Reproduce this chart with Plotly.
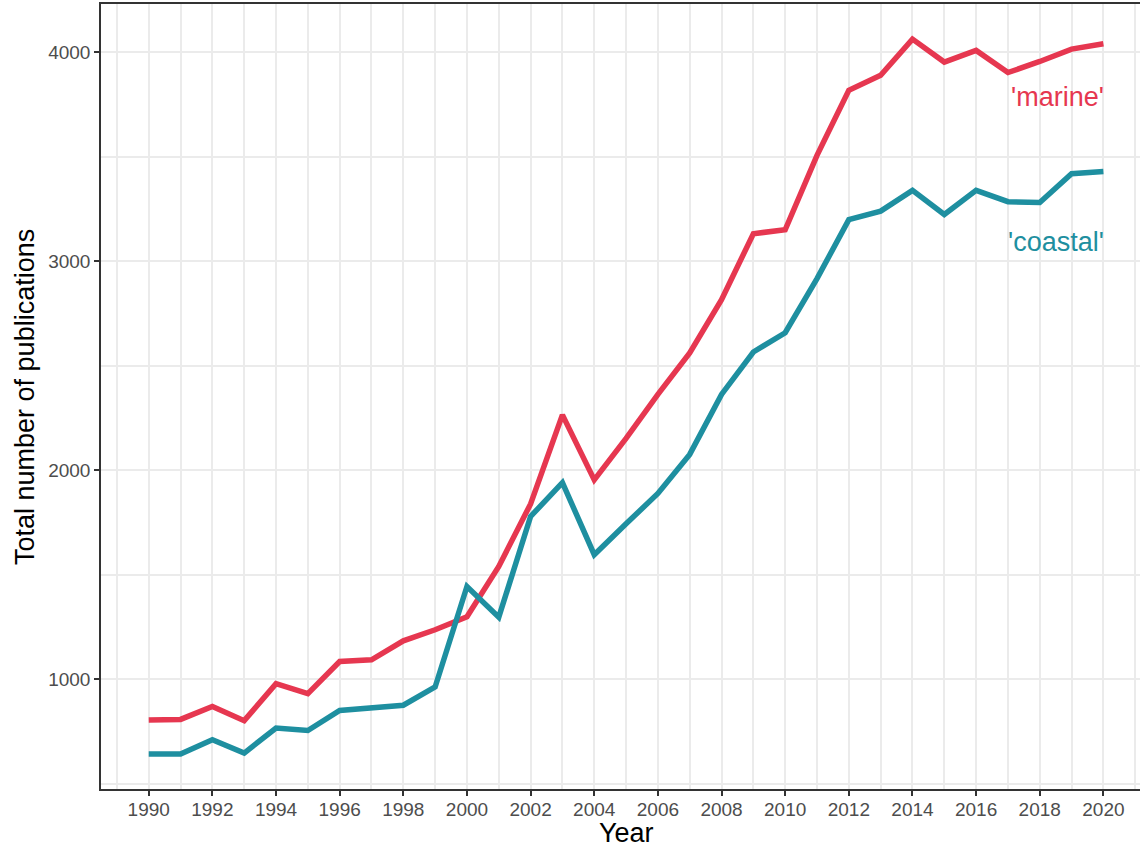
import plotly.graph_objects as go

years = list(range(1990, 2021))
marine = [804, 807, 869, 801, 978, 930, 1084, 1092, 1183, 1236,
          1298, 1539, 1838, 2264, 1953, 2152, 2362, 2560, 2815, 3131,
          3150, 3506, 3817, 3889, 4062, 3952, 4008, 3902, 3955, 4014, 4040]
coastal = [641, 641, 710, 646, 766, 754, 850, 864, 875, 962,
           1443, 1296, 1778, 1940, 1595, 1743, 1888, 2075, 2362, 2565,
           2657, 2916, 3198, 3239, 3338, 3223, 3338, 3284, 3280, 3418, 3429]
series_names = ["'marine'", "'coastal'"]
series_colors = ["#E63750", "#1E8FA0"]
label_y = [3786, 3091]

font_family = "Liberation Sans, Arial, Helvetica, sans-serif"

fig = go.Figure()
for name, vals, col in zip(series_names, [marine, coastal], series_colors):
    fig.add_trace(go.Scatter(x=years, y=vals, mode="lines", name=name,
                             line=dict(color=col, width=5.5),
                             showlegend=False))

for name, ly, col in zip(series_names, label_y, series_colors):
    fig.add_annotation(x=2020, y=ly, text=name, showarrow=False,
                       xanchor="right", yanchor="middle", xshift=3,
                       font=dict(family=font_family, size=27, color=col))

# axis titles as paper annotations for exact placement
fig.add_annotation(xref="paper", yref="paper", x=(626 - 101) / 1039, y=-(833 - 789) / 785,
                   text="Year", showarrow=False, xanchor="center", yanchor="middle",
                   font=dict(family=font_family, size=27, color="black"))
fig.add_annotation(xref="paper", yref="paper", x=-(101 - 25) / 1039, y=(789 - 397) / 785,
                   text="Total number of publications", showarrow=False, textangle=-90,
                   xanchor="center", yanchor="middle",
                   font=dict(family=font_family, size=27, color="black"))

fig.update_layout(
    width=1140, height=848,
    margin=dict(l=101, r=0, t=4, b=59, autoexpand=False),
    paper_bgcolor="white", plot_bgcolor="white",
    font=dict(family=font_family),
)

fig.update_xaxes(
    range=[1988.50, 2021.15], automargin=False,
    tickmode="linear", tick0=1990, dtick=2,
    showgrid=True, gridcolor="#EBEBEB", gridwidth=2,
    minor=dict(dtick=1, tick0=1990, showgrid=True, gridcolor="#EBEBEB", gridwidth=1.5),
    showline=True, linecolor="#333333", linewidth=1.5, mirror=True,
    ticks="outside", ticklen=5, tickwidth=1.5, tickcolor="#333333",
    tickfont=dict(size=19, color="#4D4D4D", family=font_family),
    ticklabelstandoff=-3,
    zeroline=False,
)
fig.update_yaxes(
    range=[474, 4230], automargin=False,
    tickmode="linear", tick0=0, dtick=1000,
    showgrid=True, gridcolor="#EBEBEB", gridwidth=2,
    minor=dict(dtick=500, tick0=0, showgrid=True, gridcolor="#EBEBEB", gridwidth=1.5),
    showline=True, linecolor="#333333", linewidth=1.5, mirror=False,
    ticks="outside", ticklen=5, tickwidth=1.5, tickcolor="#333333",
    tickfont=dict(size=19, color="#4D4D4D", family=font_family),
    zeroline=False,
)

fig.write_html("out.html",
               config={"displayModeBar": False},
               post_script="document.body.style.margin='0';document.body.style.overflow='hidden';")
